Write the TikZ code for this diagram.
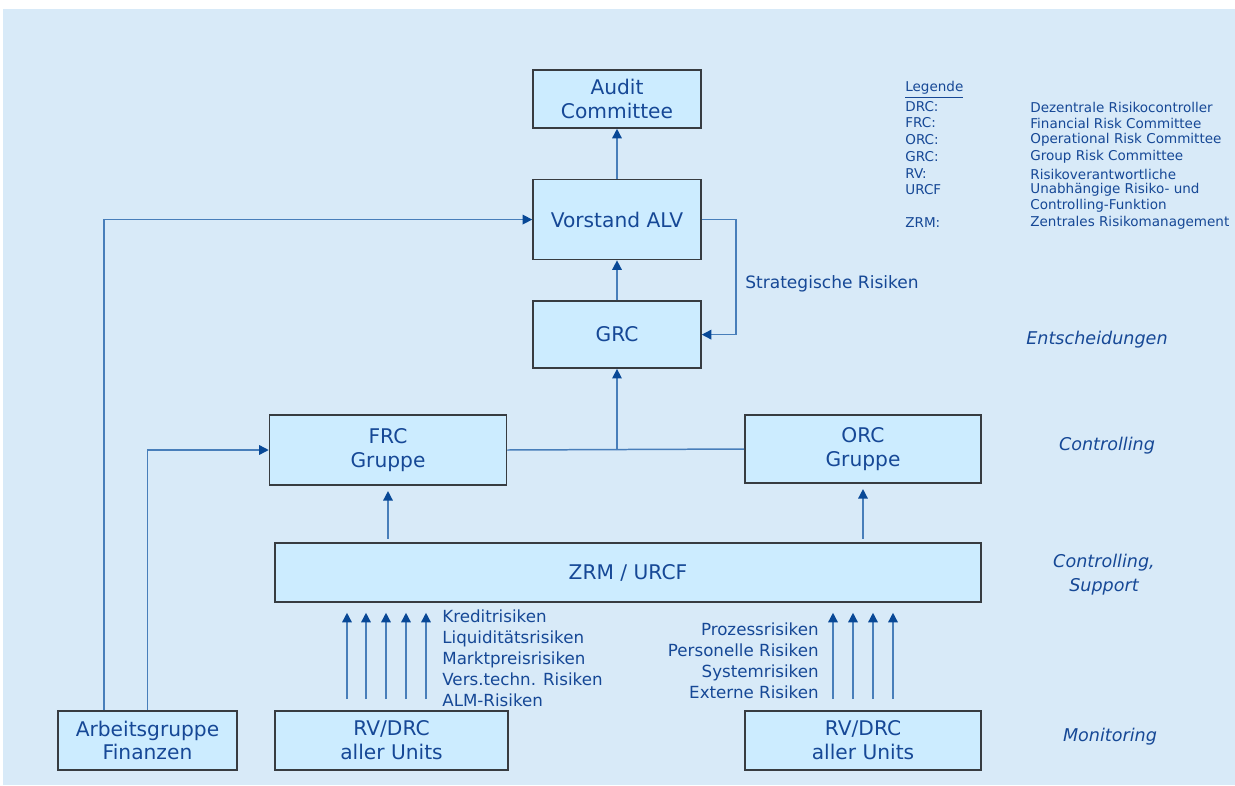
\documentclass[tikz,border=0pt]{standalone}
\usepackage{fontspec}
\setmainfont{DejaVu Sans}
\usetikzlibrary{arrows.meta,positioning}
\definecolor{bgblue}{RGB}{216,234,248}
\definecolor{boxfill}{RGB}{204,236,255}
\definecolor{boxline}{RGB}{55,60,65}
\definecolor{txtblue}{RGB}{22,72,150}
\definecolor{linkblue}{RGB}{72,126,186}
\definecolor{tipblue}{RGB}{8,72,150}

\begin{document}
\begin{tikzpicture}[
      x=0.02cm,y=-0.02cm,
      node distance=1cm,
      box/.style={draw=boxline,line width=0.9pt,fill=boxfill,
        align=center,text=txtblue,inner sep=0pt,
        font=\fontsize{11.5}{13.6}\selectfont},
      arr/.style={-{Triangle[length=0.19cm,width=0.19cm,color=tipblue]},
        line width=0.85pt,linkblue},
      link/.style={line width=0.85pt,linkblue},
      lvl/.style={text=txtblue,align=center,
        font=\fontsize{10}{13.5}\selectfont\itshape},
      risk/.style={text=txtblue,inner sep=0pt,
        font=\fontsize{9.5}{11.9}\selectfont},
      leg/.style={text=txtblue,inner sep=0pt,anchor=west,
        font=\fontsize{7.7}{9}\selectfont}
    ]
      \useasboundingbox (0,0) rectangle (1235,785);
      \fill[bgblue] (3,9) rectangle (1235,785);

      % Entscheidungen
      \node[box,minimum width=3.36cm,minimum height=1.16cm]
        (audit) at (617,99) {Audit\\Committee};
      \node[box,minimum width=3.36cm,minimum height=1.6cm,
        below=1cm of audit] (vorstand) {Vorstand ALV};
      \node[box,minimum width=3.36cm,minimum height=1.34cm,
        below=0.8cm of vorstand] (grc) {GRC};

      % Controlling
      \node[box,minimum width=4.74cm,minimum height=1.4cm]
        (frc) at (388,450) {FRC\\Gruppe};
      \node[box,minimum width=4.72cm,minimum height=1.36cm]
        (orc) at (863,449) {ORC\\Gruppe};
      \node[box,minimum width=14.12cm,minimum height=1.18cm]
        (zrm) at (628,572.5) {ZRM / URCF};

      % Monitoring
      \node[box,minimum width=3.58cm,minimum height=1.18cm]
        (agf) at (147.5,740.5) {Arbeitsgruppe\\Finanzen};
      \node[box,minimum width=4.66cm,minimum height=1.18cm]
        (rvl) at (391.5,740.5) {RV/DRC\\aller Units};
      \node[box,minimum width=4.72cm,minimum height=1.18cm]
        (rvr) at (863,740.5) {RV/DRC\\aller Units};

      \draw[arr](vorstand)--(audit);
      \draw[arr](grc)--(vorstand);
      \draw[arr](vorstand.east)--++(34,0)|-(grc.east);
      \node[risk,anchor=west,font=\fontsize{9.7}{11}\selectfont]
        (strat) at (745,284) {Strategische Risiken};

      \draw[link](frc.east)--(orc.west);
      \draw[arr](grc.south|-frc.east)--(grc.south);
      \draw[arr]([xshift=-0.87cm]agf.north)|-(vorstand.west);
      \draw[arr](agf.north)|-(frc.west);

      \draw[arr,shorten <=2pt,shorten >=3pt](zrm.north-|frc.south)--(frc.south);
      \draw[arr,shorten <=2pt,shorten >=3pt](zrm.north-|orc.south)--(orc.south);

      \foreach \x in {347,366,386,406,426}
        \draw[arr,shorten <=0.22cm,shorten >=0.2cm]
          (\x,0|-rvl.north)--(\x,0|-zrm.south);
      \foreach \x in {833,853,873,893}
        \draw[arr,shorten <=0.22cm,shorten >=0.2cm]
          (\x,0|-rvr.north)--(\x,0|-zrm.south);

      \node[risk,align=left,anchor=west] (finrisk) at (442,658)
        {Kreditrisiken\\Liquiditätsrisiken\\Marktpreisrisiken\\
         Vers.techn. Risiken\\ALM-Risiken};
      \node[risk,align=right,anchor=east] (oprisk) at (819,660.5)
        {Prozessrisiken\\Personelle Risiken\\Systemrisiken\\Externe Risiken};

      % Ebenen
      \node[lvl] (ent) at (1097,340) {Entscheidungen};
      \node[lvl] (ctl) at (1107,446) {Controlling};
      \node[lvl] (sup) at (1104,575) {Controlling,\\Support};
      \node[lvl] (mon) at (1110,737) {Monitoring};

      % Legende
      \node[leg] (leg) at (905,90) {\underline{Legende}};
      \foreach \y/\abk/\txt in {107/DRC:/Dezentrale Risikocontroller,
          123/FRC:/Financial Risk Committee,
          140/ORC:/Operational Risk Committee,
          157/GRC:/Group Risk Committee,
          174/RV:/Risikoverantwortliche,
          190/URCF/Unabhängige Risiko- und,
          206//Controlling-Funktion,
          223/ZRM:/Zentrales Risikomanagement}{
        \node[leg] (abk\y) at (905,\y) {\abk};
        \node[leg] (txt\y) at (1030,\y) {\txt};
      }
    \end{tikzpicture}
\end{document}
